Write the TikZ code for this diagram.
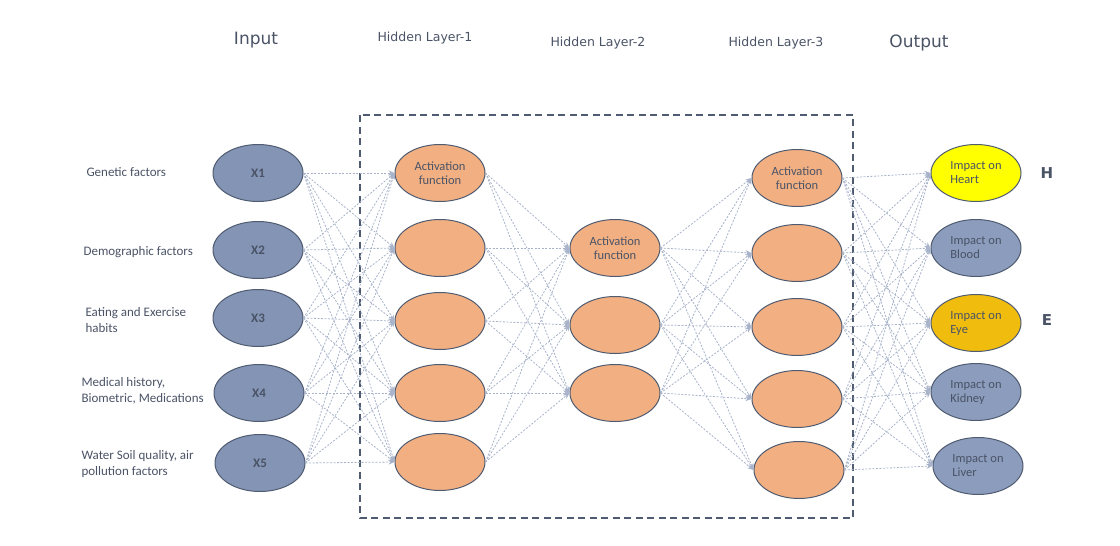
\documentclass[tikz,border=0pt]{standalone}
\usepackage{fontspec}
\setmainfont{Carlito}
\newfontfamily\hdrfont{DejaVu Sans}
\usetikzlibrary{shapes.geometric,arrows.meta}
\definecolor{txt}{HTML}{4A5366}
\definecolor{bord}{HTML}{4F5B70}
\definecolor{inblue}{HTML}{8394B4}
\definecolor{outblue}{HTML}{8C9CBC}
\definecolor{orng}{HTML}{F2B082}
\definecolor{yel}{HTML}{FFFF00}
\definecolor{gold}{HTML}{F0BC0E}
\definecolor{edgec}{HTML}{A8B3CA}
\tikzset{
  neuron/.style={ellipse, draw=bord, line width=1pt, minimum width=90pt, minimum height=57pt, inner sep=0pt, font=\fontsize{12.5}{14}\selectfont, text=txt, align=center},
  innode/.style={neuron, fill=inblue, font=\fontsize{13}{14}\selectfont\bfseries},
  hid/.style={neuron, fill=orng},
  outnode/.style={neuron, fill=outblue, align=left},
  conn/.style={draw=edgec, line width=0.8pt, dash pattern=on 2pt off 1.5pt, -{Stealth[length=6pt,width=5pt]}},
  lab/.style={font=\fontsize{13}{16}\selectfont, text=txt, align=left, anchor=west},
  hdr/.style={font=\hdrfont\fontsize{12.5}{14}\selectfont, text=txt},
  bighdr/.style={font=\hdrfont\fontsize{17}{19}\selectfont, text=txt},
}
\begin{document}
\begin{tikzpicture}[x=1pt,y=-1pt]
\useasboundingbox (0,0) rectangle (1120,546);
% headers
\node[bighdr] (hin) at (256,40) {Input};
\node[hdr] (h1) at (425,38) {Hidden Layer-1};
\node[hdr] (h2) at (598,43) {Hidden Layer-2};
\node[hdr] (h3) at (776,43) {Hidden Layer-3};
\node[bighdr] (hout) at (919,43) {Output};
% dashed box
\draw[bord, line width=1.8pt, dash pattern=on 7pt off 4.5pt] (360,115) rectangle (853,518);
% input labels
\node[lab] (l1) at (83,172) {Genetic factors};
\node[lab] (l2) at (80,252) {Demographic factors};
\node[lab] (l3) at (82,320) {Eating and Exercise\\habits};
\node[lab] (l4) at (78,391) {Medical history,\\Biometric, Medications};
\node[lab] (l5) at (78,464) {Water Soil quality, air\\pollution factors};
% input nodes
\node[innode] (i1) at (258,173) {X1};
\node[innode] (i2) at (258,250) {X2};
\node[innode] (i3) at (258,318) {X3};
\node[innode] (i4) at (259,393) {X4};
\node[innode] (i5) at (260,463) {X5};
% hidden layer 1
\node[hid] (a1) at (440,173) {Activation\\function};
\node[hid] (a2) at (440,248) {};
\node[hid] (a3) at (440,321) {};
\node[hid] (a4) at (440,393) {};
\node[hid] (a5) at (440,462) {};
% hidden layer 2
\node[hid] (b1) at (615,248) {Activation\\function};
\node[hid] (b2) at (615,325) {};
\node[hid] (b3) at (615,393) {};
% hidden layer 3
\node[hid] (c1) at (797,178) {Activation\\function};
\node[hid] (c2) at (797,253) {};
\node[hid] (c3) at (797,327) {};
\node[hid] (c4) at (797,399) {};
\node[hid] (c5) at (799,470) {};
% outputs
\node[outnode, fill=yel] (o1) at (976,173) {Impact on\\Heart};
\node[outnode] (o2) at (976,248) {Impact on\\Blood};
\node[outnode, fill=gold] (o3) at (976,323) {Impact on\\Eye};
\node[outnode] (o4) at (976,392) {Impact on\\Kidney};
\node[outnode] (o5) at (978,466) {Impact on\\Liver};
% side letters
\node[font=\hdrfont\fontsize{15}{17}\selectfont\bfseries, text=txt] (H) at (1047,173) {H};
\node[font=\hdrfont\fontsize{15}{17}\selectfont\bfseries, text=txt] (E) at (1047,320) {E};
% connections
\foreach \s in {i1,i2,i3,i4,i5} \foreach \t in {a1,a2,a3,a4,a5} \draw[conn] (\s.east) -- (\t.west);
\foreach \s in {a1,a2,a3,a4,a5} \foreach \t in {b1,b2,b3} \draw[conn] (\s.east) -- (\t.west);
\foreach \s in {b1,b2,b3} \foreach \t in {c1,c2,c3,c4,c5} \draw[conn] (\s.east) -- (\t.west);
\foreach \s in {c1,c2,c3,c4,c5} \foreach \t in {o1,o2,o3,o4,o5} \draw[conn] (\s.east) -- (\t.west);
\end{tikzpicture}
\end{document}
